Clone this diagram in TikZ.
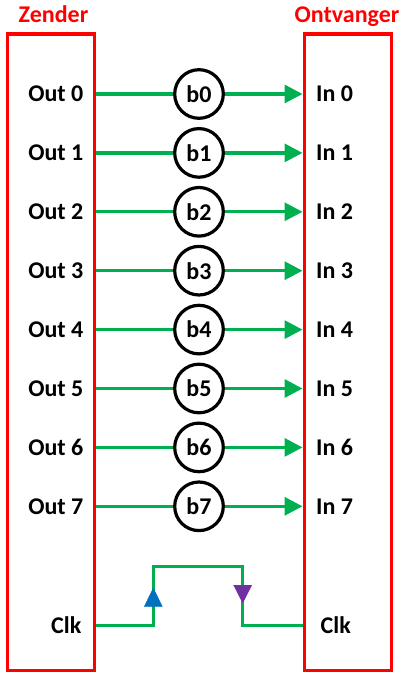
\documentclass[tikz,border=0pt]{standalone}
\usepackage{fontspec}
\setmainfont{Carlito}
\usetikzlibrary{arrows.meta,decorations.markings}
\definecolor{boxred}{RGB}{255,0,0}
\definecolor{wiregreen}{RGB}{0,176,80}
\definecolor{clkblue}{RGB}{0,112,192}
\definecolor{clkpurple}{RGB}{112,48,160}
\begin{document}
\begin{tikzpicture}[x=1pt,y=-1pt,
  font=\fontsize{24}{28}\selectfont\bfseries,
  unit/.style={draw=boxred,line width=3.5pt,minimum width=87pt,minimum height=636.5pt,inner sep=0pt},
  title/.style={text=boxred,inner sep=0pt},
  lbl/.style={inner sep=0pt},
  bit/.style={circle,draw=black,line width=3.2pt,fill=white,minimum size=48.6pt,inner sep=0pt},
  wire/.style={draw=wiregreen,line width=3.3pt},
  tipend/.style={-{Triangle[length=18pt,width=18pt]}},
]
\useasboundingbox (0,0) rectangle (405,679);
\node[unit] (zender) at (51.1,352.25) {};
\node[unit] (ontv) at (347.75,352.25) {};
\node[title,anchor=base] (tz) at (53.5,22.5) {Zender};
\node[title,anchor=base] (to) at (347,22.5) {Ontvanger};
\foreach \i in {0,...,7} {
  \pgfmathsetmacro\yy{94+58.9*\i}
  \node[lbl,anchor=base east] (out\i) at (83.5,\yy+7.8) {Out \i};
  \node[lbl,anchor=base west] (in\i) at (316,\yy+7.8) {In \i};
  \node[bit] (b\i) at (199,\yy) {b\i};
  \draw[wire] (zender.east |- b\i) -- (b\i);
  \draw[wire,tipend] (b\i) -- (ontv.west |- b\i);
}
\node[lbl,anchor=base east] (clkl) at (81.5,633.1) {Clk};
\node[lbl,anchor=base west] (clkr) at (320.5,633.1) {Clk};
\coordinate (ka) at (153.3,625.3);
\coordinate (kb) at (153.3,566.7);
\coordinate (kc) at (242.7,566.7);
\coordinate (kd) at (242.7,625.3);
\draw[wire] (zender.east |- ka) -- (ka) -- (kb) -- (kc) -- (kd) -- (ontv.west |- kd);
\path[postaction={decorate},decoration={markings,mark=at position 37.6pt with {\arrow{Triangle[length=19pt,width=18.6pt,color=clkblue]}}}] (ka) -- (kb);
\path[postaction={decorate},decoration={markings,mark=at position 36.6pt with {\arrow{Triangle[length=18.3pt,width=18.6pt,color=clkpurple]}}}] (kc) -- (kd);
\end{tikzpicture}
\end{document}
